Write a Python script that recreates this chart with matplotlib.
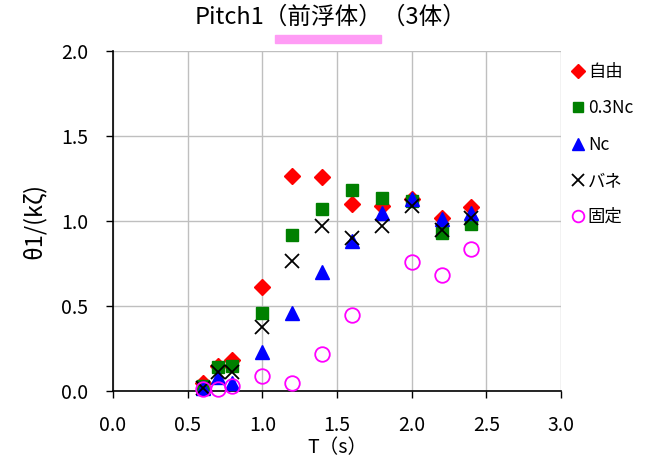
#!/usr/bin/env python3

import matplotlib
matplotlib.use('Agg')
from matplotlib import pyplot as plt
from matplotlib.patches import Rectangle

plt.rcParams['font.family'] = ['Noto Sans CJK JP', 'DejaVu Sans']

T = [0.6, 0.7, 0.8, 1.0, 1.2, 1.4, 1.6, 1.8, 2.0, 2.2, 2.4]
jiyu = [0.05, 0.15, 0.18, 0.61, 1.265, 1.26, 1.10, 1.09, 1.13, 1.02, 1.08]
nc03 = [0.03, 0.14, 0.15, 0.46, 0.92, 1.07, 1.18, 1.135, 1.12, 0.93, 0.98]
nc = [0.02, 0.08, 0.05, 0.23, 0.46, 0.70, 0.88, 1.05, 1.13, 1.01, 1.05]
bane = [0.02, 0.11, 0.11, 0.375, 0.765, 0.97, 0.90, 0.97, 1.09, 0.95, 1.02]
kotei = [0.01, 0.01, 0.03, 0.09, 0.05, 0.22, 0.45, None, 0.76, 0.68, 0.835]

series = [
    ('自由', jiyu, dict(marker='D', color='#ff0000', ms=8.5, ls='none')),
    ('0.3Nc', nc03, dict(marker='s', color='#008000', ms=9, ls='none')),
    ('Nc', nc, dict(marker='^', color='#0000ff', ms=10, ls='none')),
    ('バネ', bane, dict(marker='x', color='black', ms=10, mew=1.3, ls='none')),
    ('固定', kotei, dict(marker='o', mfc='none', mec='#ff00ff', ms=10.5,
                       mew=1.3, ls='none')),
]

fig = plt.figure(figsize=(6.52, 4.57), dpi=100)
ax = fig.add_axes([113/652, 1 - 391/457, 448/652, 340/457])

for name, ys, style in series:
    xs = [t for t, v in zip(T, ys) if v is not None]
    vs = [v for v in ys if v is not None]
    ax.plot(xs, vs, label=name, clip_on=False, zorder=3, **style)

ax.set_xlim(0, 3.0)
ax.set_ylim(0, 2.0)
ax.set_xticks([0.0, 0.5, 1.0, 1.5, 2.0, 2.5, 3.0])
ax.set_yticks([0.0, 0.5, 1.0, 1.5, 2.0])
ax.xaxis.set_major_formatter(matplotlib.ticker.FormatStrFormatter('%.1f'))
ax.yaxis.set_major_formatter(matplotlib.ticker.FormatStrFormatter('%.1f'))
ax.tick_params(labelsize=14, length=5, width=1, color='black')
ax.tick_params(axis='y', pad=13)
ax.tick_params(axis='x', pad=12)
ax.grid(True, color='#bfbfbf', linewidth=1)
ax.set_axisbelow(True)
for s in ['top', 'right']:
    ax.spines[s].set_visible(False)
for s in ['left', 'bottom']:
    ax.spines[s].set_linewidth(1.2)

ax.set_xlabel('T（s）', fontsize=14, labelpad=1)
ax.set_ylabel('θ1/(kζ)', fontsize=17, labelpad=11)

fig.text(0.507, 1 - 17/457, 'Pitch1（前浮体）（3体）', ha='center', va='center',
         fontsize=17)
fig.patches.append(Rectangle((275/652, 1 - 43/457), 106/652, 8/457,
                             transform=fig.transFigure, color='#ff9cf5'))

leg = ax.legend(loc='upper left', bbox_to_anchor=(1.0, 1.0), frameon=False,
                fontsize=12.5, handlelength=0.6, handletextpad=0.25,
                labelspacing=1.05, borderaxespad=0.3, markerscale=0.8)

plt.savefig('out.png', dpi=100)
